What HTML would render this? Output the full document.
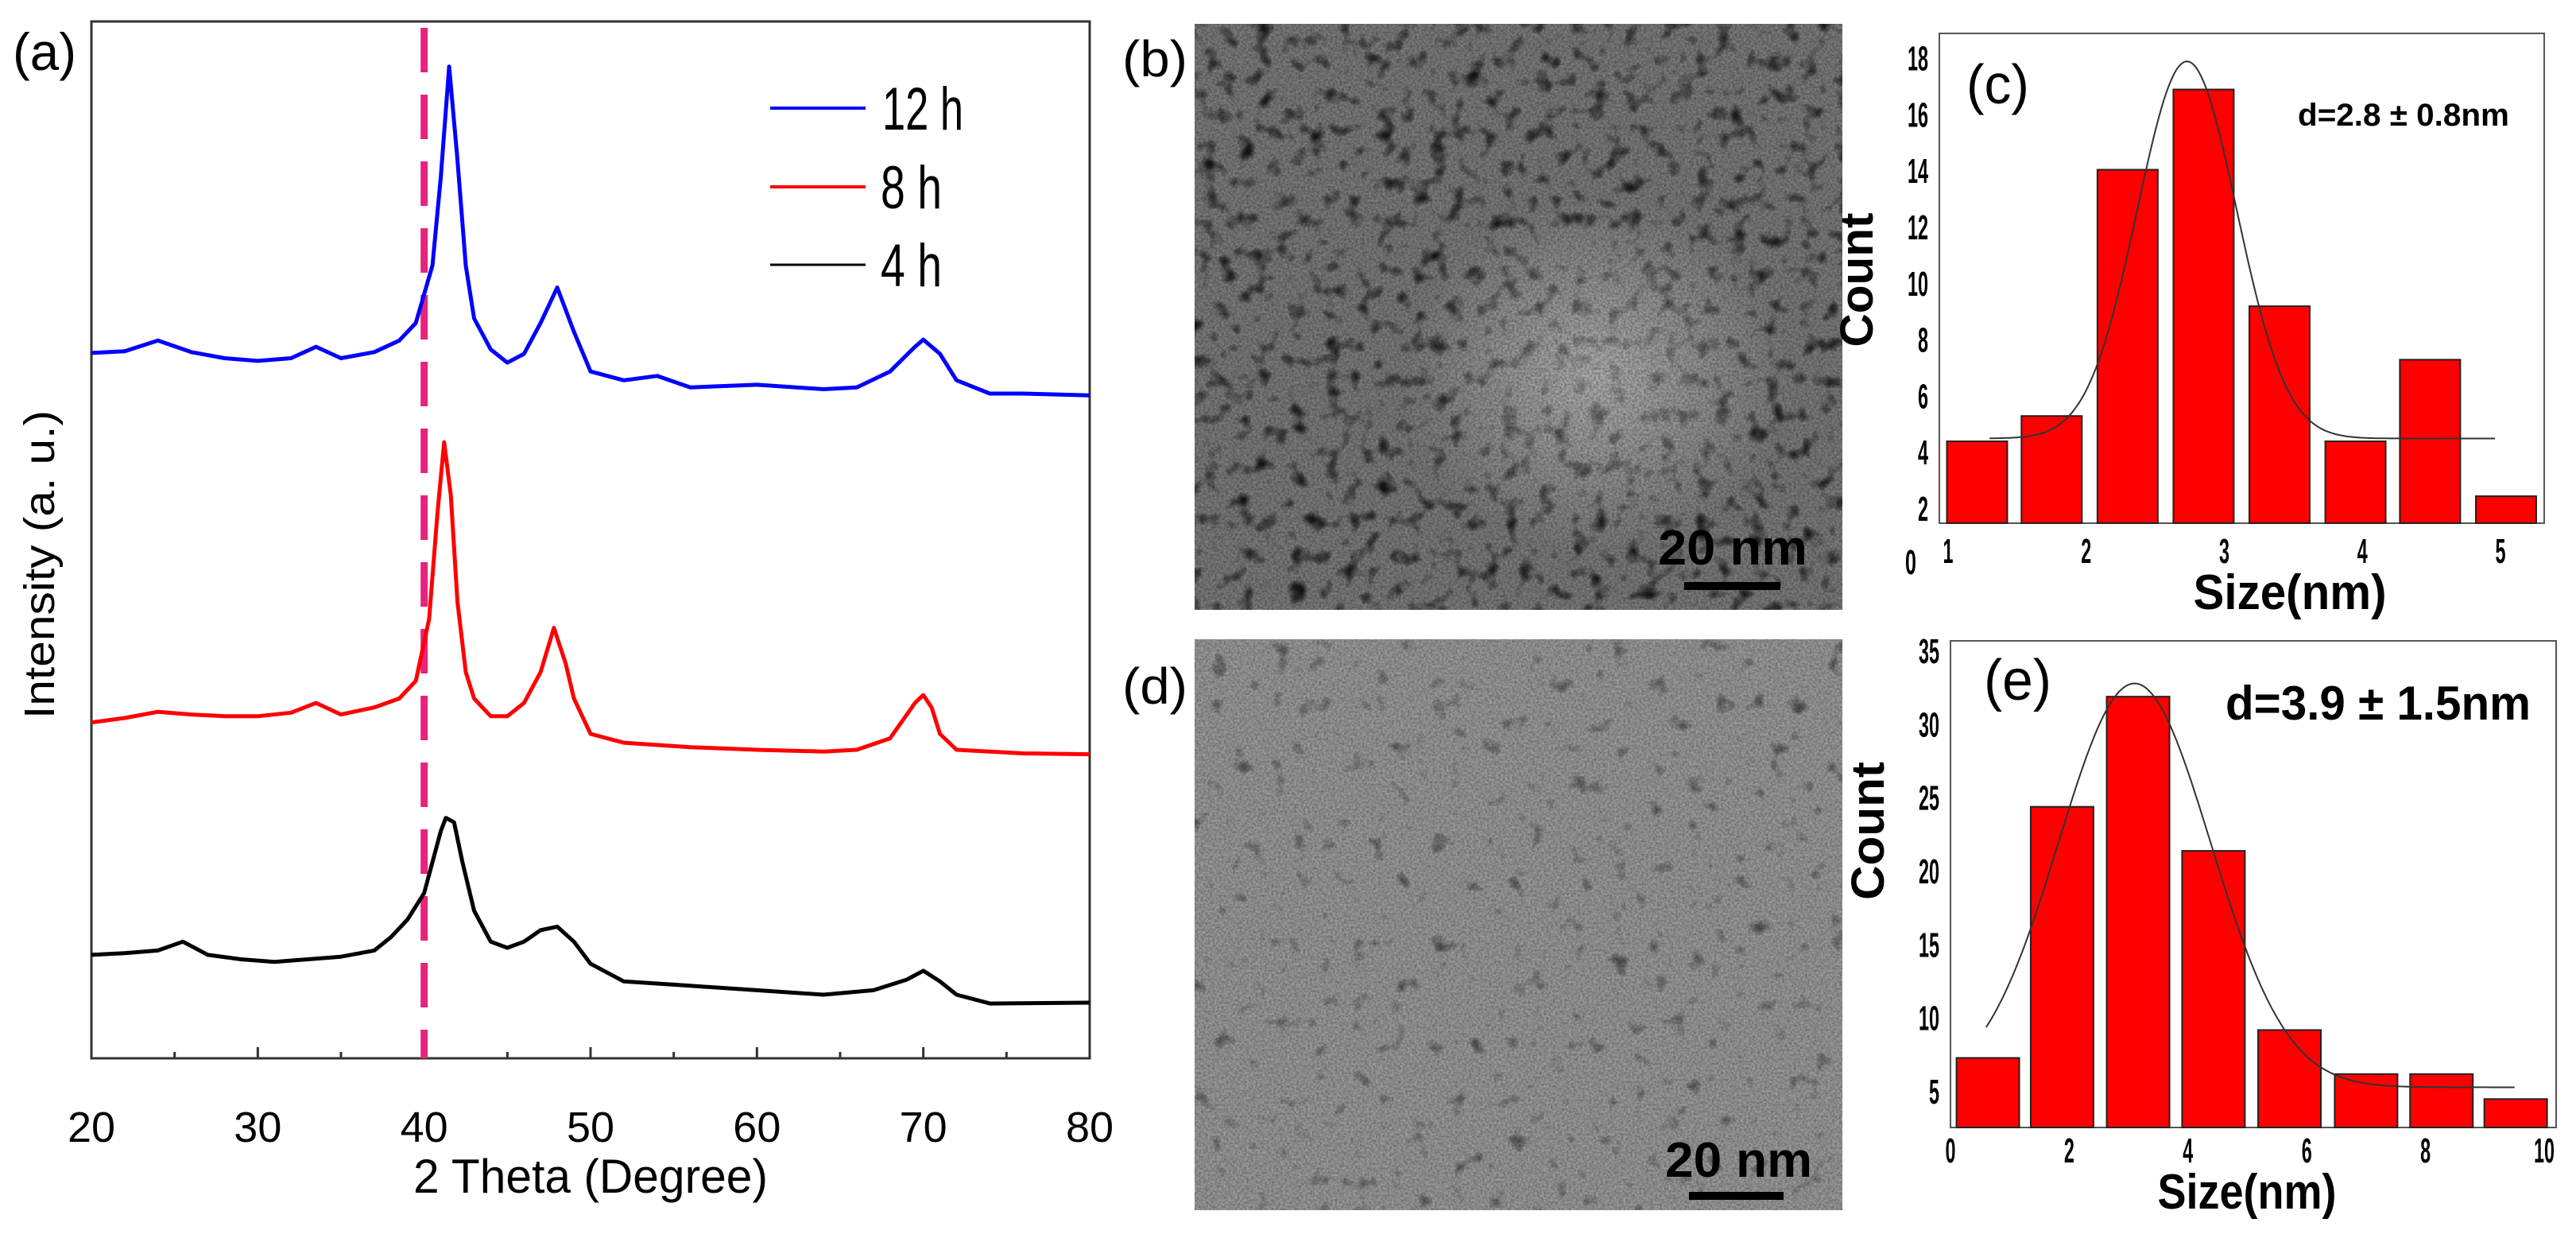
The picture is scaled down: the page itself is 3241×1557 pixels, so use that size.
<!DOCTYPE html>
<html><head><meta charset="utf-8"><style>
html,body{margin:0;padding:0;background:#fff}
svg{display:block}
text{font-family:"Liberation Sans",sans-serif}
</style></head><body>
<svg id="fig" width="3241" height="1557" viewBox="0 0 3241 1557" xmlns="http://www.w3.org/2000/svg">
<defs>
<filter id="grain" x="0" y="0" width="100%" height="100%">
<feTurbulence type="fractalNoise" baseFrequency="0.35" numOctaves="2" seed="3" result="n"/>
<feColorMatrix type="matrix" values="0 0 0 0 0  0 0 0 0 0  0 0 0 0 0  0 0 0 -1.4 1.0" in="n" result="a"/>
<feComposite in="a" in2="SourceGraphic" operator="in"/>
</filter>
<filter id="blob" x="0" y="0" width="100%" height="100%">
<feTurbulence type="fractalNoise" baseFrequency="0.045" numOctaves="2" seed="7" result="n"/>
<feColorMatrix type="matrix" values="0 0 0 0 0  0 0 0 0 0  0 0 0 0 0  0 0 0 -3 1.4" in="n" result="a"/>
<feComposite in="a" in2="SourceGraphic" operator="in"/>
</filter>
<filter id="blob2" x="0" y="0" width="100%" height="100%">
<feTurbulence type="fractalNoise" baseFrequency="0.04" numOctaves="2" seed="11" result="n"/>
<feColorMatrix type="matrix" values="0 0 0 0 0  0 0 0 0 0  0 0 0 0 0  0 0 0 -3 1.1" in="n" result="a"/>
<feComposite in="a" in2="SourceGraphic" operator="in"/>
</filter>
<radialGradient id="lightB" cx="0.62" cy="0.6" r="0.3"><stop offset="0" stop-color="#fff" stop-opacity="0.4"/><stop offset="1" stop-color="#fff" stop-opacity="0"/></radialGradient>
</defs>

<!-- Panel (a) -->
<g id="panelA">
<text x="16" y="88" font-size="66" textLength="80" lengthAdjust="spacingAndGlyphs">(a)</text>
<rect x="115" y="27" width="1256" height="1304" fill="none" stroke="#333" stroke-width="3"/>
<g id="xrdTicks"></g>
<g id="xrdSeries"></g>
<text x="743" y="1500" font-size="60" text-anchor="middle" textLength="446" lengthAdjust="spacingAndGlyphs">2 Theta (Degree)</text>
<text transform="translate(68,710) rotate(-90)" font-size="54" text-anchor="middle" textLength="388" lengthAdjust="spacingAndGlyphs">Intensity (a. u.)</text>
<g>
<line x1="969" y1="136" x2="1089" y2="136" stroke="#0000ff" stroke-width="4"/>
<text x="1110" y="163" font-size="76" textLength="102" lengthAdjust="spacingAndGlyphs">12 h</text>
<line x1="969" y1="235" x2="1089" y2="235" stroke="#ff0000" stroke-width="4"/>
<text x="1108" y="262" font-size="76" textLength="77" lengthAdjust="spacingAndGlyphs">8 h</text>
<line x1="969" y1="333" x2="1089" y2="333" stroke="#000" stroke-width="3"/>
<text x="1108" y="360" font-size="76" textLength="77" lengthAdjust="spacingAndGlyphs">4 h</text>
</g>
</g>

<!-- TEM images -->
<g>
<text x="1412" y="96" font-size="64" textLength="82" lengthAdjust="spacingAndGlyphs">(b)</text>
<rect x="1503" y="30" width="815" height="737" fill="#7c7c7c"/>
<rect x="1503" y="30" width="815" height="737" fill="#2a2a2a" filter="url(#blob)" opacity="0.8"/>
<rect x="1503" y="30" width="815" height="737" fill="url(#lightB)"/>
<rect x="1503" y="30" width="815" height="737" fill="#d8d8d8" filter="url(#grain)" opacity="0.45"/>
<text x="2086" y="710" font-size="62" font-weight="bold" textLength="188" lengthAdjust="spacingAndGlyphs">20 nm</text>
<rect x="2119" y="732" width="121" height="10" fill="#000"/>
</g>
<g>
<text x="1412" y="885" font-size="64" textLength="82" lengthAdjust="spacingAndGlyphs">(d)</text>
<rect x="1503" y="804" width="815" height="718" fill="#9a9a9a"/>
<rect x="1503" y="804" width="815" height="718" fill="#404040" filter="url(#blob2)" opacity="0.6"/>
<rect x="1503" y="804" width="815" height="718" fill="#e0e0e0" filter="url(#grain)" opacity="0.4"/>
<text x="2095" y="1480" font-size="62" font-weight="bold" textLength="185" lengthAdjust="spacingAndGlyphs">20 nm</text>
<rect x="2125" y="1499" width="119" height="10" fill="#000"/>
</g>

<g id="histC"></g>
<g id="histE"></g>
</svg>
<script>
// ---------- XRD data (intensity a.u.) ----------
const xrdTickLabels = [20,30,40,50,60,70,80];
const x12 = [20,22,24,26,28,30,32,33.5,35,37,38.5,39.5,40.5,41,41.5,42,42.5,43,44,45,46,47,48,49,50,52,54,56,60,64,66,68,69.5,70,71,72,74,76,80];
const y12 = [798,800,812,799,792,789,792,805,792,799,812,832,897,997,1122,1017,897,837,802,787,797,832,872,822,777,767,772,759,762,757,759,777,805,813,797,767,752,752,750];
const x8 = [20,22,24,26,28,30,32,33.5,35,37,38.5,39.5,40.3,40.8,41.2,41.6,42,42.5,43,44,45,46,47,47.8,48.5,49,50,52,56,60,64,66,68,69.5,70,70.5,71,72,76,80];
const y8 = [380,385,392,389,387,387,391,402,389,397,407,427,497,617,697,637,517,437,407,387,387,402,437,487,447,407,367,357,352,349,347,349,362,402,411,397,367,349,345,344];
const x4 = [20,22,24,25.5,27,29,31,33,35,37,38,39,40,40.5,41,41.3,41.8,42.3,43,44,45,46,47,48,49,50,52,56,60,64,67,69,70,71,72,74,80];
const y4 = [117,119,122,132,117,112,109,112,115,122,137,157,187,222,257,272,267,222,167,132,125,132,145,149,132,107,87,82,77,72,77,89,99,87,72,62,63];
const refLine = [40];

const NS = "http://www.w3.org/2000/svg";
function mk(tag, attrs, parent){const e=document.createElementNS(NS,tag);for(const k in attrs)e.setAttribute(k,attrs[k]);parent.appendChild(e);return e;}

const AX={l:115,r:1371,t:27,b:1331};
const xs = v => AX.l + (v-20)/60*(AX.r-AX.l);
const ys = v => AX.b - v/1173*(AX.b-AX.t);

const tk=document.getElementById('xrdTicks');
for(let v=20; v<=80; v+=5){
  const t=mk('line',{x1:xs(v),x2:xs(v),y1:AX.b,y2:AX.b-(v%10===0?14:8),stroke:'#333','stroke-width':3},tk);
  
  
}
xrdTickLabels.forEach(v=>{
  const t=mk('text',{x:xs(v),y:1436,'font-size':54,'text-anchor':'middle'},tk);
  t.textContent=v;
  
  
});
const sg=document.getElementById('xrdSeries');
const rl=mk('line',{x1:xs(refLine[0]),x2:xs(refLine[0]),y1:35,y2:AX.b,stroke:'#e6247d','stroke-width':9,'stroke-dasharray':'56,28'},sg);


[[x12,y12,'#0000ff','series-12h'],[x8,y8,'#ff0000','series-8h'],[x4,y4,'#000000','series-4h']].forEach(s=>{
  const pts=s[0].map((x,i)=>xs(x).toFixed(1)+','+ys(s[1][i]).toFixed(1)).join(' ');
  const p=mk('polyline',{points:pts,fill:'none',stroke:s[2],'stroke-width':5,'stroke-linejoin':'round'},sg);
  
  
});

// ---------- Histogram (c) ----------
const cCenters = [1.21,1.75,2.30,2.85,3.40,3.95,4.49,5.04];
const cCounts = [4.4,5.3,14.05,16.9,9.2,4.4,7.3,2.45];
const cYTicks = [2,4,6,8,10,12,14,16,18];
const cXTicks = [1,2,3,4,5];
const cFit = [4.5,13.4,2.73,0.36]; // baseline, amplitude, center, sigma
const cFitRange = [1.3,4.96];

// ---------- Histogram (e) ----------
const eCenters = [0.63,1.88,3.16,4.43,5.71,7.0,8.27,9.52];
const eCounts = [7.3,24.4,31.9,21.4,9.2,6.2,6.2,4.5];
const eYTicks = [5,10,15,20,25,30,35];
const eXTicks = [0,2,4,6,8,10];
const eFit = [5.3,27.5,3.1,1.28];
const eFitRange = [0.6,9.5];

function hist(g, o){
  const X=v=>o.x0px+(v-o.x0)*o.xppu, Y=v=>o.y0px-(v-o.y0)*o.yppu;
  const fr=mk('rect',{x:o.L,y:o.T,width:o.R-o.L,height:o.B-o.T,fill:'none',stroke:'#555','stroke-width':2},g);
  
  
  o.centers.forEach((c,i)=>{
    const b=mk('rect',{x:X(c)-o.bw/2,y:Y(o.counts[i]),width:o.bw,height:o.B-Y(o.counts[i]),fill:'#ff0000',stroke:'#222','stroke-width':2},g);
    
    
  });
  let d='';
  for(let k=0;k<=200;k++){const x=o.fr[0]+(o.fr[1]-o.fr[0])*k/200;const v=o.fit[0]+o.fit[1]*Math.exp(-((x-o.fit[2])**2)/(2*o.fit[3]**2));d+=(k?'L':'M')+X(x).toFixed(1)+','+Y(v).toFixed(1);}
  const c=mk('path',{d:d,fill:'none',stroke:'#333','stroke-width':2},g);
  
  
  o.yt.forEach(v=>{
    const s=String(v);
    const t=mk('text',{x:o.L-14,y:Y(v)+15,'font-size':44,'font-weight':'bold','text-anchor':'end',textLength:13*s.length,lengthAdjust:'spacingAndGlyphs'},g);
    t.textContent=s;
    
    
  });
  o.xt.forEach(v=>{
    const s=String(v);
    const t=mk('text',{x:X(v),y:o.xly,'font-size':44,'font-weight':'bold','text-anchor':'middle',textLength:13*s.length,lengthAdjust:'spacingAndGlyphs'},g);
    t.textContent=s;
    
    
  });
}
hist(document.getElementById('histC'),{L:2440,R:3201,T:42,B:658,x0:1,x0px:2451,xppu:173.75,y0:2,y0px:640,yppu:35.4,bw:76,centers:cCenters,counts:cCounts,fit:cFit,fr:cFitRange,yt:cYTicks,xt:cXTicks,xly:708});
hist(document.getElementById('histE'),{L:2454,R:3216,T:806,B:1418,x0:0,x0px:2454,xppu:74.7,y0:5,y0px:1373,yppu:18.47,bw:79,centers:eCenters,counts:eCounts,fit:eFit,fr:eFitRange,yt:eYTicks,xt:eXTicks,xly:1462});

function addText(g,attrs,txt,name){const t=mk('text',attrs,g);t.textContent=txt;}
const gC=document.getElementById('histC'), gE=document.getElementById('histE');
addText(gC,{x:2411,y:722,'font-size':44,'font-weight':'bold','text-anchor':'end',textLength:14,lengthAdjust:'spacingAndGlyphs'},'0','y-tick-label-zero');
addText(gC,{x:2474,y:130,'font-size':70,textLength:79,lengthAdjust:'spacingAndGlyphs'},'(c)','panel-label-c');
addText(gC,{x:2891,y:158,'font-size':40,'font-weight':'bold',textLength:266,lengthAdjust:'spacingAndGlyphs'},'d=2.8 ± 0.8nm','mean-size-annotation-c');
addText(gC,{transform:'translate(2356,352) rotate(-90)','font-size':58,'font-weight':'bold','text-anchor':'middle',textLength:169,lengthAdjust:'spacingAndGlyphs'},'Count','y-axis-title-c');
addText(gC,{x:2881,y:766,'font-size':62,'font-weight':'bold','text-anchor':'middle',textLength:243,lengthAdjust:'spacingAndGlyphs'},'Size(nm)','x-axis-title-c');
addText(gE,{x:2496,y:880,'font-size':72,textLength:85,lengthAdjust:'spacingAndGlyphs'},'(e)','panel-label-e');
addText(gE,{x:2800,y:905,'font-size':60,'font-weight':'bold',textLength:384,lengthAdjust:'spacingAndGlyphs'},'d=3.9 ± 1.5nm','mean-size-annotation-e');
addText(gE,{transform:'translate(2370,1045) rotate(-90)','font-size':58,'font-weight':'bold','text-anchor':'middle',textLength:174,lengthAdjust:'spacingAndGlyphs'},'Count','y-axis-title-e');
addText(gE,{x:2827,y:1520,'font-size':62,'font-weight':'bold','text-anchor':'middle',textLength:225,lengthAdjust:'spacingAndGlyphs'},'Size(nm)','x-axis-title-e');
</script>
</body></html>
